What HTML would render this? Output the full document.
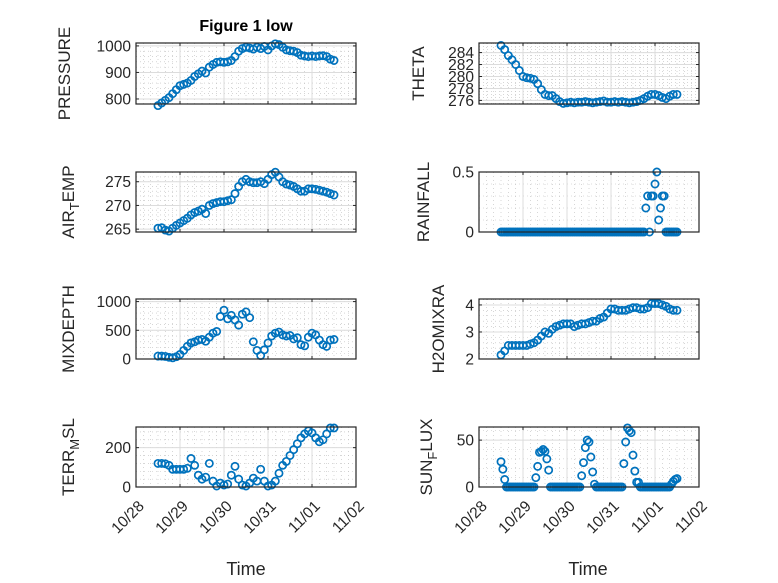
<!DOCTYPE html>
<html><head><meta charset="utf-8"><style>
body{margin:0;background:#fff}
svg{display:block;font-family:"Liberation Sans",sans-serif}
</style></head><body>
<svg id="fig" width="778" height="583" viewBox="0 0 778 583" xmlns="http://www.w3.org/2000/svg">
<rect width="778" height="583" fill="#fff"/>
<text x="246" y="31" text-anchor="middle" font-size="16" font-weight="bold" fill="#000">Figure 1 low</text>
</svg>
<script>
// 2-hour sampled series, t = 0.5 + i/12 days after 10/28
const pressureVals=[775,785,795,805,820,835,850,855,860,870,885,895,905,898,920,930,938,940,938,940,945,960,980,990,995,992,988,995,990,998,985,1000,1008,1005,995,985,982,980,975,965,962,960,962,960,962,963,960,950,945];
const thetaVals=[285.2,284.5,283.5,282.8,282,281,280,279.8,279.7,279.5,278.8,277.8,277,276.8,276.8,276.3,275.8,275.5,275.6,275.7,275.6,275.7,275.7,275.8,275.7,275.6,275.7,275.8,275.9,275.7,275.7,275.8,275.7,275.8,275.7,275.6,275.7,275.8,276,276.3,276.7,277,277,276.8,276.5,276.3,276.7,277,277];
const airVals=[265.2,265.3,264.8,264.6,265.2,265.8,266.3,266.8,267.3,268,268.5,268.8,269.2,268.3,270,270.4,270.6,270.8,270.8,271,271.2,272.5,274,275,275.5,275,274.8,274.8,275,274.6,275.5,276.5,277,276,275,274.5,274.3,274,273.5,273,273,273.5,273.5,273.4,273.2,273,272.8,272.5,272.2];
const mixVals=[50,50,45,30,20,40,80,150,220,280,300,330,340,310,380,450,480,740,850,700,760,680,590,780,820,720,300,150,60,160,280,400,450,470,420,400,410,350,370,250,230,380,450,420,330,250,220,330,340];
const h2oVals=[2.15,2.3,2.5,2.5,2.5,2.5,2.5,2.5,2.55,2.6,2.7,2.85,3.0,2.95,3.1,3.2,3.25,3.3,3.3,3.3,3.2,3.25,3.3,3.3,3.35,3.4,3.4,3.5,3.55,3.7,3.85,3.85,3.8,3.8,3.8,3.85,3.9,3.9,3.85,3.85,3.9,4.05,4.05,4.05,4.0,3.95,3.85,3.8,3.8];
const terrVals=[120,120,118,110,90,90,90,90,95,145,110,60,40,50,120,30,5,20,10,15,60,105,40,10,5,20,45,30,90,30,5,10,30,70,110,130,160,190,220,250,270,285,275,250,230,240,270,300,300];
// hourly sampled series, t = 0.5 + i/24 days
const rainVals=[0,0,0,0,0,0,0,0,0,0, 0,0,0,0,0,0,0,0,0,0, 0,0,0,0,0,0,0,0,0,0, 0,0,0,0,0,0,0,0,0,0, 0,0,0,0,0,0,0,0,0,0, 0,0,0,0,0,0,0,0,0,0, 0,0,0,0,0,0,0,0,0,0, 0,0,0,0,0,0,0,0,0,0.2, 0.3,0,0.3,0.3,0.4,0.5,0.1,0.2,0.3,0.3, 0,0,0,0,0,0,0];
const sunVals=[27,19,8,0,0,0,0,0,0,0, 0,0,0,0,0,0,0,0,0,10, 22,37,38,40,38,30,18,0,0,0, 0,0,0,0,0,0,0,0,0,0, 0,0,0,0,12,26,42,50,48,32, 16,3,0,0,0,0,0,0,0,0, 0,0,0,0,0,0,0,25,48,63, 60,58,34,17,5,5,0,0,0,0, 0,0,0,0,0,0,0,0,0,0, 0,0,0,3,6,8,9];
const dayLabels=["10/28","10/29","10/30","10/31","11/01","11/02"];
const pressureTicks=[800,900,1000], thetaTicks=[276,278,280,282,284], airTicks=[265,270,275], rainTicks=[0,0.5], mixTicks=[0,500,1000], h2oTicks=[2,3,4], terrTicks=[0,200], sunTicks=[0,50];

const NS="http://www.w3.org/2000/svg";
const svg=document.getElementById('fig');
function mk(tag,attrs,parent){const e=document.createElementNS(NS,tag);for(const k in attrs)e.setAttribute(k,attrs[k]);(parent||svg).appendChild(e);return e;}
const COLS={L:[136,356],R:[479,699]};
const ROWS=[[43,104],[172,232],[299,359],[427,487]];
const panels=[
 {id:'pressure',col:'L',row:0,ylim:[781,1011],ticks:pressureTicks,minor:20,vals:pressureVals,step:1/12,label:['PRESSURE'],lx:70},
 {id:'theta',col:'R',row:0,ylim:[275.4,285.6],ticks:thetaTicks,minor:0.5,vals:thetaVals,step:1/12,label:['THETA'],lx:424},
 {id:'air-temp',col:'L',row:1,ylim:[264.4,277.05],ticks:airTicks,minor:1,vals:airVals,step:1/12,label:['AIR','T','EMP'],lx:74},
 {id:'rainfall',col:'R',row:1,ylim:[0,0.5],ticks:rainTicks,minor:0.1,vals:rainVals,step:1/24,label:['RAINFALL'],lx:429},
 {id:'mixdepth',col:'L',row:2,ylim:[0,1045],ticks:mixTicks,minor:100,vals:mixVals,step:1/12,label:['MIXDEPTH'],lx:74},
 {id:'h2omixra',col:'R',row:2,ylim:[2,4.22],ticks:h2oTicks,minor:0.2,vals:h2oVals,step:1/12,label:['H2OMIXRA'],lx:444},
 {id:'terr-msl',col:'L',row:3,ylim:[0,305],ticks:terrTicks,minor:40,vals:terrVals,step:1/12,label:['TERR','M','SL'],lx:74},
 {id:'sun-flux',col:'R',row:3,ylim:[0,64],ticks:sunTicks,minor:10,vals:sunVals,step:1/24,label:['SUN','F','LUX'],lx:432},
];
panels.forEach(p=>{
 const [x0,x1]=COLS[p.col],[y0,y1]=ROWS[p.row];
 const xs=d=>x0+(x1-x0)*d/5;
 const ys=v=>y1-(y1-y0)*(v-p.ylim[0])/(p.ylim[1]-p.ylim[0]);
 const g=mk('g',{});
 
 
 mk('rect',{x:x0,y:y0,width:x1-x0,height:y1-y0,fill:'#fff'},g);
 for(let k=1;k<30;k++){if(k%6===0)continue;const x=xs(k/6);mk('line',{x1:x,x2:x,y1:y0,y2:y1,stroke:'#bdbdbd','stroke-width':0.6,'stroke-dasharray':'1,3'},g);}
 for(let v=Math.ceil(p.ylim[0]/p.minor)*p.minor;v<p.ylim[1];v+=p.minor){const y=ys(v);mk('line',{x1:x0,x2:x1,y1:y,y2:y,stroke:'#bdbdbd','stroke-width':0.6,'stroke-dasharray':'1,3'},g);}
 for(let d=1;d<5;d++){const x=xs(d);mk('line',{x1:x,x2:x,y1:y0,y2:y1,stroke:'#dcdcdc','stroke-width':1},g);}
 p.ticks.forEach(v=>{const y=ys(v);mk('line',{x1:x0,x2:x1,y1:y,y2:y,stroke:'#dcdcdc','stroke-width':1},g);
  mk('line',{x1:x0,x2:x0+3,y1:y,y2:y,stroke:'#262626'},g);mk('line',{x1:x1,x2:x1-3,y1:y,y2:y,stroke:'#262626'},g);
  const t=mk('text',{x:x0-5,y:y+5.5,'text-anchor':'end','font-size':15.5,fill:'#262626'},g);t.textContent=String(v);
  
  });
 for(let d=0;d<=5;d++){const x=xs(d);mk('line',{x1:x,x2:x,y1:y1,y2:y1-3,stroke:'#262626'},g);mk('line',{x1:x,x2:x,y1:y0,y2:y0+3,stroke:'#262626'},g);
  if(p.row===3){const ax=x+9,ay=y1+20;const t=mk('text',{x:ax,y:ay,'text-anchor':'end','font-size':15.5,fill:'#262626',transform:`rotate(-45 ${ax} ${ay})`},g);t.textContent=dayLabels[d];
   
   }}
 const mg=mk('g',{fill:'none',stroke:'#0072BD','stroke-width':1.7},g);
 
 
 p.vals.forEach((v,i)=>{const c=mk('circle',{cx:xs(0.5+i*p.step),cy:ys(v),r:3.6},mg);
  
  });
 mk('rect',{x:x0,y:y0,width:x1-x0,height:y1-y0,fill:'none',stroke:'#262626','stroke-width':1.2},g);
 const cy=(y0+y1)/2;
 const lt=mk('text',{x:p.lx,y:cy,'text-anchor':'middle','font-size':17,fill:'#262626',transform:`rotate(-90 ${p.lx} ${cy})`},g);
 
 
 if(p.label.length===1){lt.textContent=p.label[0];}
 else{const a=mk('tspan',{},lt);a.textContent=p.label[0];const b=mk('tspan',{dy:5,'font-size':13},lt);b.textContent=p.label[1];const c=mk('tspan',{dy:-5},lt);c.textContent=p.label[2];}
});
[246,588].forEach((x,i)=>{const t=mk('text',{x:x,y:575,'text-anchor':'middle','font-size':18,fill:'#262626'});t.textContent='Time';
 
 });
</script>
</body></html>
